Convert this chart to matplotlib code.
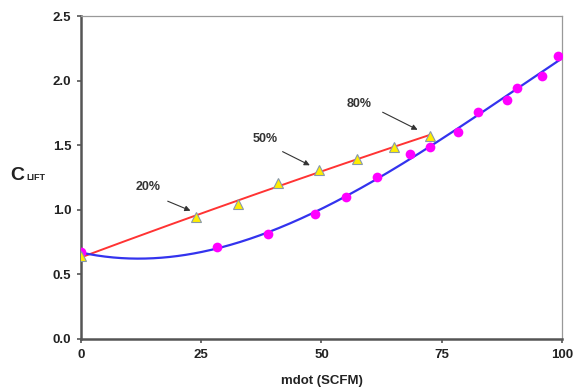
import numpy as np
import matplotlib.pyplot as plt

plt.rcParams['font.family'] = ['Liberation Sans', 'DejaVu Sans']

# triangles (red series)
tri_x = [0, 24.0, 32.7, 41.0, 49.5, 57.3, 65.1, 72.6]
tri_y = [0.64, 0.945, 1.045, 1.205, 1.31, 1.39, 1.49, 1.57]

# circles (blue series)
circ_x = [0, 28.2, 38.9, 48.6, 55.2, 61.5, 68.4, 72.6, 78.4, 82.6, 88.5, 90.7, 95.9, 99.1]
circ_y = [0.67, 0.71, 0.81, 0.97, 1.10, 1.255, 1.435, 1.485, 1.605, 1.76, 1.85, 1.94, 2.035, 2.19]

# annotation labels: text position, arrow tail, arrow head
labels = ['20%', '50%', '80%']
label_xy = [(14.0, 1.18), (38.3, 1.55), (57.9, 1.82)]
arrow_tail = [(17.5, 1.075), (41.4, 1.46), (62.2, 1.765)]
arrow_head = [(23.3, 0.985), (48.1, 1.335), (70.5, 1.61)]

fig = plt.figure(figsize=(5.76, 3.91), dpi=100)
ax = fig.add_axes([0.1406, 0.133, 0.835, 0.826])

# trend lines
pr = np.polyfit(tri_x, tri_y, 2)
xr = np.linspace(0, max(tri_x), 200)
ax.plot(xr, np.polyval(pr, xr), color='#ff3333', lw=1.4, zorder=2)

pb = np.polyfit(circ_x, circ_y, 3)
xb = np.linspace(0, 100, 300)
ax.plot(xb, np.polyval(pb, xb), color='#3333ee', lw=1.6, zorder=2)

ax.plot(circ_x, circ_y, 'o', color='#ff00ff', ms=7, mec='none', zorder=3)
ax.plot(tri_x, tri_y, '^', color='#ffee00', ms=7, mec='#8899aa', mew=0.8, zorder=4)

for lab, t, a, h in zip(labels, label_xy, arrow_tail, arrow_head):
    ax.text(t[0], t[1], lab, ha='center', va='center', fontsize=9, fontweight='bold', color='#333333')
    ax.annotate('', xy=h, xytext=a,
                arrowprops=dict(arrowstyle='-|>', color='#333333', lw=0.8, mutation_scale=8))

ax.set_xlim(0, 100)
ax.set_ylim(0, 2.5)
ax.set_xticks([0, 25, 50, 75, 100])
ax.set_yticks(np.arange(0, 2.51, 0.5))
ax.set_yticklabels(['%.1f' % v for v in np.arange(0, 2.51, 0.5)])

for s in ['left', 'bottom']:
    ax.spines[s].set_color('#555555')
    ax.spines[s].set_linewidth(1.8)
for s in ['top', 'right']:
    ax.spines[s].set_color('#999999')
    ax.spines[s].set_linewidth(0.9)

ax.tick_params(direction='out', length=3, width=1.2, color='#555555', labelsize=9.5, pad=4)
for lbl in ax.get_xticklabels() + ax.get_yticklabels():
    lbl.set_fontweight('bold')
    lbl.set_color('#222222')

ax.set_xlabel('mdot (SCFM)', fontsize=9.5, fontweight='bold', color='#222222', labelpad=10)
fig.text(0.018, 0.54, 'C', fontsize=14, fontweight='bold', ha='left', va='baseline', color='#222222')
fig.text(0.045, 0.54, 'LIFT', fontsize=6.5, fontweight='bold', ha='left', va='baseline', color='#222222')

fig.savefig('out.png', dpi=100)
